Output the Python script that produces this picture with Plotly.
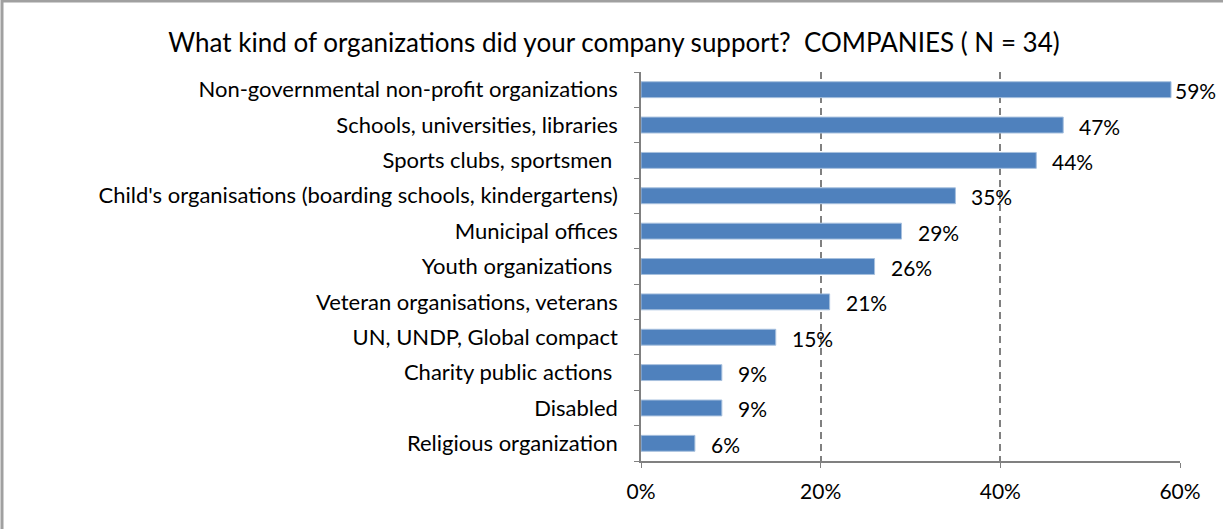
import plotly.graph_objects as go

# Survey results, listed top to bottom
categories = [
    "Non-governmental non-profit organizations",
    "Schools, universities, libraries",
    "Sports clubs, sportsmen\u00a0",
    "Child's organisations (boarding schools, kindergartens)",
    "Municipal offices",
    "Youth organizations\u00a0",
    "Veteran organisations, veterans",
    "UN, UNDP, Global compact",
    "Charity public actions\u00a0",
    "Disabled",
    "Religious organization",
]
shares = [0.59, 0.47, 0.44, 0.35, 0.29, 0.26, 0.21, 0.15, 0.09, 0.09, 0.06]
x_ticks = [0, 0.2, 0.4, 0.6]
x_tick_labels = ["0%", "20%", "40%", "60%"]

FONT = "Lato"
n = len(categories)
ypos = list(range(n - 1, -1, -1))

fig = go.Figure()
fig.add_trace(go.Bar(
    x=shares,
    y=ypos,
    orientation="h",
    width=0.45,
    marker=dict(color="#4F81BD", line=dict(color="#A7C0DE", width=1)),
    hoverinfo="skip",
))

# value labels placed just past the end of each bar
for v, y in zip(shares, ypos):
    fig.add_annotation(
        x=v, y=y, text=f"{round(v * 100)}%",
        xanchor="left", yanchor="middle", showarrow=False,
        xshift=2 if v > 0.55 else 14, yshift=-1,
        font=dict(family=FONT, size=21, color="#000000"),
    )

fig.update_layout(
    width=1223, height=529,
    margin=dict(l=641, r=43, t=72, b=68),
    paper_bgcolor="white", plot_bgcolor="white",
    showlegend=False,
    title=dict(
        text="What kind of organizations did your company support?  COMPANIES ( N = 34)",
        x=614 / 1223, xanchor="center", y=1 - 43 / 529, yanchor="middle",
        font=dict(family=FONT, size=26, color="#000000"),
    ),
    xaxis=dict(
        range=[0, 0.6],
        tickvals=x_ticks, ticktext=x_tick_labels,
        showgrid=True, gridcolor="#808080", griddash="7px,5px", gridwidth=1.5,
        showline=True, linecolor="#808080", linewidth=1.5,
        ticks="outside", ticklen=5, tickcolor="#808080",
        tickfont=dict(family=FONT, size=21, color="#000000"),
        ticklabelstandoff=6,
        zeroline=False, fixedrange=True,
    ),
    yaxis=dict(
        range=[-0.5, n - 0.5],
        tickvals=ypos, ticktext=categories,
        ticks="", showgrid=False,
        showline=True, linecolor="#808080", linewidth=1.5,
        tickfont=dict(family=FONT, size=22, color="#000000"),
        ticklabelstandoff=17,
        minor=dict(tick0=0.5, dtick=1, ticks="outside", ticklen=5,
                   tickcolor="#808080", showgrid=False),
        zeroline=False, fixedrange=True,
    ),
    shapes=[
        dict(type="rect", xref="paper", yref="paper",
             x0=-639 / 539, x1=(1300 - 641) / 539,
             y0=-80 / 389, y1=(461 - 1) / 389,
             line=dict(color="#A0A0A0", width=3), fillcolor="rgba(0,0,0,0)",
             layer="below"),
    ],
)

fig.write_html("out.html")
